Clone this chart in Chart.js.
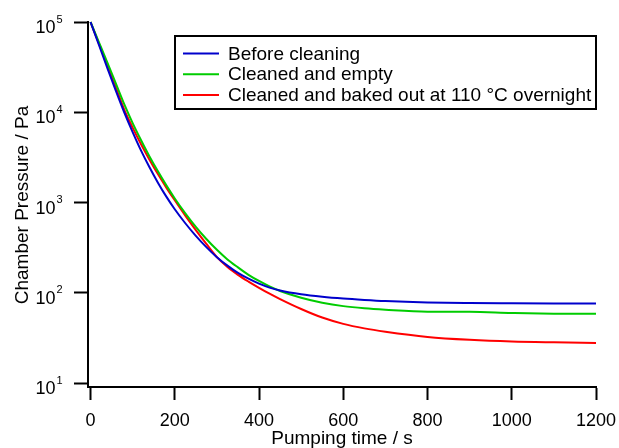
<!DOCTYPE html>
<html>
<head>
<meta charset="utf-8">
<title>Chamber pump-down</title>
<script src="https://cdn.jsdelivr.net/npm/chart.js@4.4.1/dist/chart.umd.min.js"></script>
<style>
  html, body { margin: 0; padding: 0; background: #fff; }
  #wrap { width: 619px; height: 448px; }
</style>
</head>
<body>
<div id="wrap"><canvas id="pumpChart" width="619" height="448"></canvas></div>
<script>
// pumping time (s)
const times = [0, 20, 40, 60, 80, 100, 120, 140, 160, 180, 200, 225, 250, 275, 300,
    325, 350, 375, 400, 425, 450, 500, 550, 600, 650, 700, 800, 900, 1000, 1100, 1200];

// chamber pressure (Pa)
const beforeCleaning = [100000, 55600, 30900, 17380, 10000, 6026, 3758, 2455, 1660, 1161, 841, 589, 427, 320, 248,
    200, 166, 143, 126, 114, 106, 96.2, 90.2, 86.1, 83.2, 80.9, 78.2, 77.1, 76.6, 76.2, 76.0];
const cleanedEmpty = [100000, 59570, 35480, 20890, 12300, 7586, 4898, 3236, 2213, 1549, 1109, 759, 537, 394, 299,
    234, 191, 158, 135, 117.5, 104.7, 88.1, 77.6, 71.1, 67.3, 64.9, 61.7, 61.4, 59.8, 58.7, 58.5];
const bakedOut = [100000, 57540, 33110, 18840, 10720, 6761, 4416, 2985, 2065, 1462, 1059, 716, 495, 347, 248,
    193, 158, 133, 113.5, 97.7, 85.1, 66.1, 53.1, 45.2, 40.3, 37.0, 32.4, 30.1, 28.8, 28.2, 27.8];

const seriesLabels = ['Before cleaning', 'Cleaned and empty', 'Cleaned and baked out at 110 \u00B0C overnight'];
const seriesColors = ['#0000cc', '#00cc00', '#ff0000'];

const xTicks = [0, 200, 400, 600, 800, 1000, 1200];
const yTicks = [10, 100, 1000, 10000, 100000];

const fontFamily = '"Liberation Sans", Arial, Helvetica, sans-serif';
Chart.defaults.font.family = fontFamily;
Chart.defaults.color = '#000';

function toPoints(values) {
    return values.map((v, i) => ({ x: times[i], y: v }));
}

// draws legend, axis titles and the 10^n labels
const decorations = {
    id: 'decorations',
    afterDraw(chart) {
        const ctx = chart.ctx;
        const area = chart.chartArea;
        const yScale = chart.scales.y;
        ctx.save();
        ctx.fillStyle = '#000';

        yTicks.forEach(v => {
            const py = yScale.getPixelForValue(v);
            ctx.textBaseline = 'alphabetic';
            ctx.font = '18px ' + fontFamily;
            ctx.textAlign = 'right';
            ctx.fillText('10', 55.5, py + 11);
            ctx.font = '11px ' + fontFamily;
            ctx.textAlign = 'left';
            ctx.fillText(String(Math.round(Math.log10(v))), 56.5, py + 0.5);
        });

        // axis titles
        ctx.font = '19px ' + fontFamily;
        ctx.textAlign = 'center';
        ctx.textBaseline = 'alphabetic';
        ctx.fillText('Pumping time / s', (area.left + area.right) / 2, 444);
        ctx.save();
        ctx.translate(28, 205);
        ctx.rotate(-Math.PI / 2);
        ctx.fillText('Chamber Pressure / Pa', 0, 0);
        ctx.restore();

        // legend
        ctx.strokeStyle = '#000';
        ctx.lineWidth = 2;
        ctx.strokeRect(175, 36, 421, 73);
        ctx.textAlign = 'left';
        chart.data.datasets.forEach((ds, i) => {
            const base = 59.5 + i * 20.7;
            ctx.strokeStyle = ds.borderColor;
            ctx.beginPath();
            ctx.moveTo(183, base - 6);
            ctx.lineTo(219, base - 6);
            ctx.stroke();
            ctx.fillText(ds.label, 228, base);
        });
        ctx.restore();
    }
};

const ctx = document.getElementById('pumpChart').getContext('2d');
new Chart(ctx, {
    type: 'line',
    data: {
        datasets: [beforeCleaning, cleanedEmpty, bakedOut].map((vals, i) => ({
            label: seriesLabels[i],
            data: toPoints(vals),
            borderColor: seriesColors[i],
            borderWidth: 2,
            pointRadius: 0,
            fill: false,
            cubicInterpolationMode: 'monotone',
            clip: 4
        }))
    },
    options: {
        responsive: false,
        animation: false,
        layout: { padding: { top: 22, right: 23, left: 0, bottom: 0 } },
        plugins: {
            legend: { display: false },
            tooltip: { enabled: false }
        },
        scales: {
            x: {
                type: 'linear',
                min: -6,
                max: 1200,
                afterBuildTicks: scale => { scale.ticks = xTicks.map(v => ({ value: v })); },
                afterFit: scale => {
                    scale.height = 61;
                    scale.paddingLeft = 0;
                    scale.paddingRight = 0;
                },
                grid: { drawOnChartArea: false, drawTicks: true, tickLength: 13, tickWidth: 2, tickColor: '#000', color: '#000' },
                border: { display: true, color: '#000', width: 2 },
                ticks: {
                    font: { size: 18 },
                    color: '#000',
                    padding: 10,
                    maxRotation: 0,
                    autoSkip: false,
                    callback: v => String(v)
                }
            },
            y: {
                type: 'logarithmic',
                min: 9.03,
                max: 100000,
                afterBuildTicks: scale => { scale.ticks = yTicks.map(v => ({ value: v })); },
                afterFit: scale => { scale.width = 88; },
                grid: { drawOnChartArea: false, drawTicks: true, tickLength: 14, tickWidth: 2, tickColor: '#000', color: '#000' },
                border: { display: true, color: '#000', width: 2 },
                ticks: { display: false }
            }
        }
    },
    plugins: [decorations]
});
</script>
</body>
</html>
